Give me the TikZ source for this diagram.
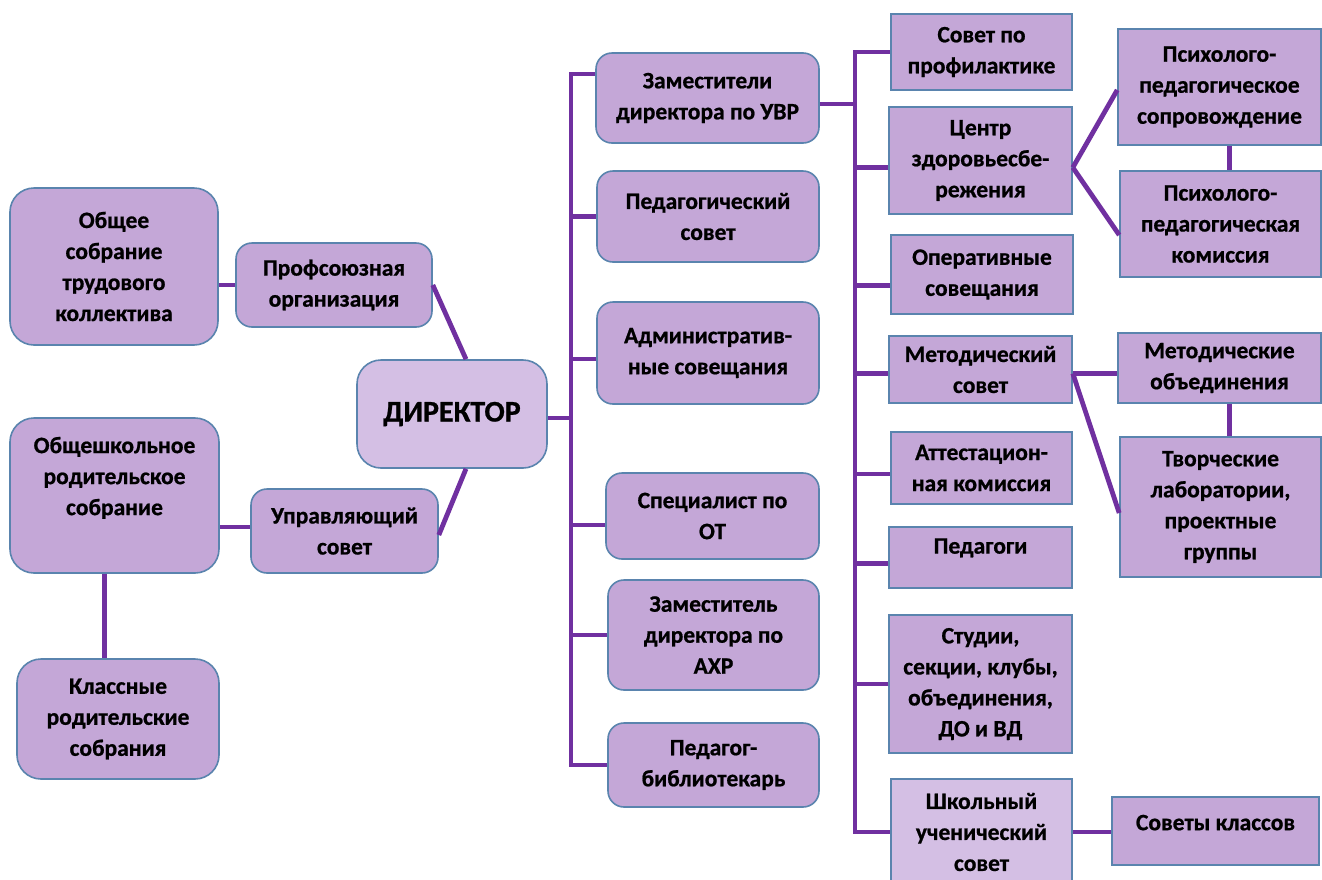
\documentclass[tikz,border=0pt]{standalone}
\usepackage{fontspec}
\setmainfont{Carlito}[BoldFeatures={FakeBold=0.8}]
\definecolor{boxfill}{HTML}{C4A7D7}
\definecolor{boxlight}{HTML}{D4BFE4}
\definecolor{boxborder}{HTML}{5A84AE}
\definecolor{conn}{HTML}{7030A0}
\tikzset{
  base/.style={draw=boxborder, line width=1.6pt, fill=boxfill, align=center, inner sep=0pt,
    font=\bfseries\fontsize{23.5}{31}\selectfont, text=black},
  rbox/.style={base, rounded corners=16pt},
  rbig/.style={base, rounded corners=24pt},
  sbox/.style={base},
  link/.style={draw=conn, line width=4.8pt},
}
\begin{document}
\begin{tikzpicture}[x=1pt,y=-1pt]
\useasboundingbox (0,0) rectangle (1322,879);
\clip (0,0) rectangle (1322,879);
\fill[white] (0,0) rectangle (1322,879);

% left side
\node[rbig, minimum width=208pt, minimum height=157pt] (obsh) at (114,266.5) {Общее\\собрание\\трудового\\коллектива};
\node[rbox, minimum width=196pt, minimum height=84pt] (prof) at (334,285) {Профсоюзная\\организация};
\node[rbig, fill=boxlight, minimum width=190pt, minimum height=108pt, font=\bfseries\fontsize{30}{31}\selectfont] (dir) at (452,414) {ДИРЕКТОР};
\node[rbig, minimum width=209pt, minimum height=155pt] (obshk) at (114.5,495.5) {Общешкольное\\родительское\\собрание\\[8pt]};
\node[rbox, minimum width=187pt, minimum height=84pt] (upr) at (344.5,531) {Управляющий\\совет};
\node[rbig, minimum width=202pt, minimum height=120pt] (klass) at (118,719) {Классные\\родительские\\собрания};

% middle column
\node[rbox, minimum width=223pt, minimum height=90pt] (zam) at (707.5,98) {Заместители\\директора по УВР};
\node[rbox, minimum width=222pt, minimum height=91pt] (ped) at (708,216.5) {Педагогический\\совет};
\node[rbox, minimum width=222pt, minimum height=102pt] (adm) at (708,353) {Административ-\\ные совещания};
\node[rbox, minimum width=213pt, minimum height=86pt] (spec) at (712.5,516) {Специалист по\\ОТ};
\node[rbox, minimum width=211pt, minimum height=110pt] (axr) at (713.5,635) {Заместитель\\директора по\\АХР};
\node[rbox, minimum width=211pt, minimum height=84pt] (bib) at (713.5,765) {Педагог-\\библиотекарь};

% right column 1
\node[sbox, minimum width=181pt, minimum height=76pt] (sovprof) at (981.5,52) {Совет по\\профилактике};
\node[sbox, minimum width=183pt, minimum height=107pt] (centr) at (980.5,160.5) {Центр\\здоровьесбе-\\режения};
\node[sbox, minimum width=182pt, minimum height=79pt] (oper) at (982,274.5) {Оперативные\\совещания};
\node[sbox, minimum width=183pt, minimum height=67pt] (metsov) at (980.5,369.5) {Методический\\совет};
\node[sbox, minimum width=181pt, minimum height=72pt] (att) at (981.5,468) {Аттестацион-\\ная комиссия};
\node[sbox, minimum width=183pt, minimum height=61pt] (pedg) at (980.5,557.5) {Педагоги\\[-8pt]};
\node[sbox, minimum width=183pt, minimum height=138pt] (stud) at (980.5,684) {Студии,\\секции, клубы,\\объединения,\\ДО и ВД};
\node[sbox, fill=boxlight, minimum width=181pt, minimum height=106pt] (shk) at (981.5,832) {Школьный\\ученический\\совет};
\node[sbox, minimum width=207pt, minimum height=68pt] (sovkl) at (1215.5,831) {Советы классов\\[-14pt]};

% right column 2
\node[sbox, minimum width=203pt, minimum height=116pt] (psisop) at (1219.5,87) {Психолого-\\педагогическое\\сопровождение};
\node[sbox, minimum width=201pt, minimum height=106pt] (psikom) at (1220.5,224) {Психолого-\\педагогическая\\комиссия};
\node[sbox, minimum width=203pt, minimum height=70pt] (metob) at (1219.5,368) {Методические\\объединения};
\node[sbox, minimum width=201pt, minimum height=140pt] (tvor) at (1220.5,507) {Творческие\\лаборатории,\\проектные\\группы};

% bus coordinates
\coordinate (b1) at (571,74);
\coordinate (c1) at (855,52);
\coordinate (c0) at (855,104);

% left connectors
\draw[link] (prof.west) -- (prof.west -| obsh.east);
\draw[link] (upr.west) ++(0,-4) coordinate (u1) -- (u1 -| obshk.east);
\draw[link] ([xshift=-10pt]obshk.south) -- ([xshift=-10pt]obshk.south |- klass.north);
\draw[link] (prof.east) -- ([xshift=14pt]dir.north);
\draw[link] ([yshift=-4pt]upr.east) -- ([xshift=14pt]dir.south);

% director bus
\draw[link] ([yshift=-4pt]dir.east) -- ([yshift=-4pt]dir.east -| b1);
\draw[link] ([yshift=24pt]zam.west) -- (b1) -- (b1 |- bib.west) -- (bib.west);
\draw[link] (ped.west) -- (ped.west -| b1);
\draw[link] ([yshift=-6pt]adm.west) -- ([yshift=-6pt]adm.west -| b1);
\draw[link] ([yshift=-9pt]spec.west) -- ([yshift=-9pt]spec.west -| b1);
\draw[link] (axr.west) -- (axr.west -| b1);

% UVR bus
\draw[link] ([yshift=-6pt]zam.east) -- (c0);
\draw[link] (sovprof.west) -- (c1) -- (c1 |- shk.west) -- (shk.west);
\draw[link] ([yshift=-7pt]centr.west) -- ([yshift=-7pt]centr.west -| c1);
\draw[link] ([yshift=-11pt]oper.west) -- ([yshift=-11pt]oper.west -| c1);
\draw[link] ([yshift=-4pt]metsov.west) -- ([yshift=-4pt]metsov.west -| c1);
\draw[link] ([yshift=-6pt]att.west) -- ([yshift=-6pt]att.west -| c1);
\draw[link] ([yshift=-6pt]pedg.west) -- ([yshift=-6pt]pedg.west -| c1);
\draw[link] (stud.west) -- (stud.west -| c1);

% right connectors
\draw[link] ([yshift=-7pt]centr.east) -- ([yshift=-3pt]psisop.west);
\draw[link] ([yshift=-7pt]centr.east) -- ([yshift=-11pt]psikom.west);
\draw[link] ([xshift=10pt]psisop.south) -- ([xshift=10pt]psisop.south |- psikom.north);
\draw[link] ([yshift=-4pt]metsov.east) -- ([yshift=-4pt]metsov.east -| metob.west);
\draw[link] ([yshift=-4pt]metsov.east) -- ([yshift=-6pt]tvor.west);
\draw[link] ([xshift=10pt]metob.south) -- ([xshift=10pt]metob.south |- tvor.north);
\draw[link] (shk.east) -- (shk.east -| sovkl.west);
\end{tikzpicture}
\end{document}
